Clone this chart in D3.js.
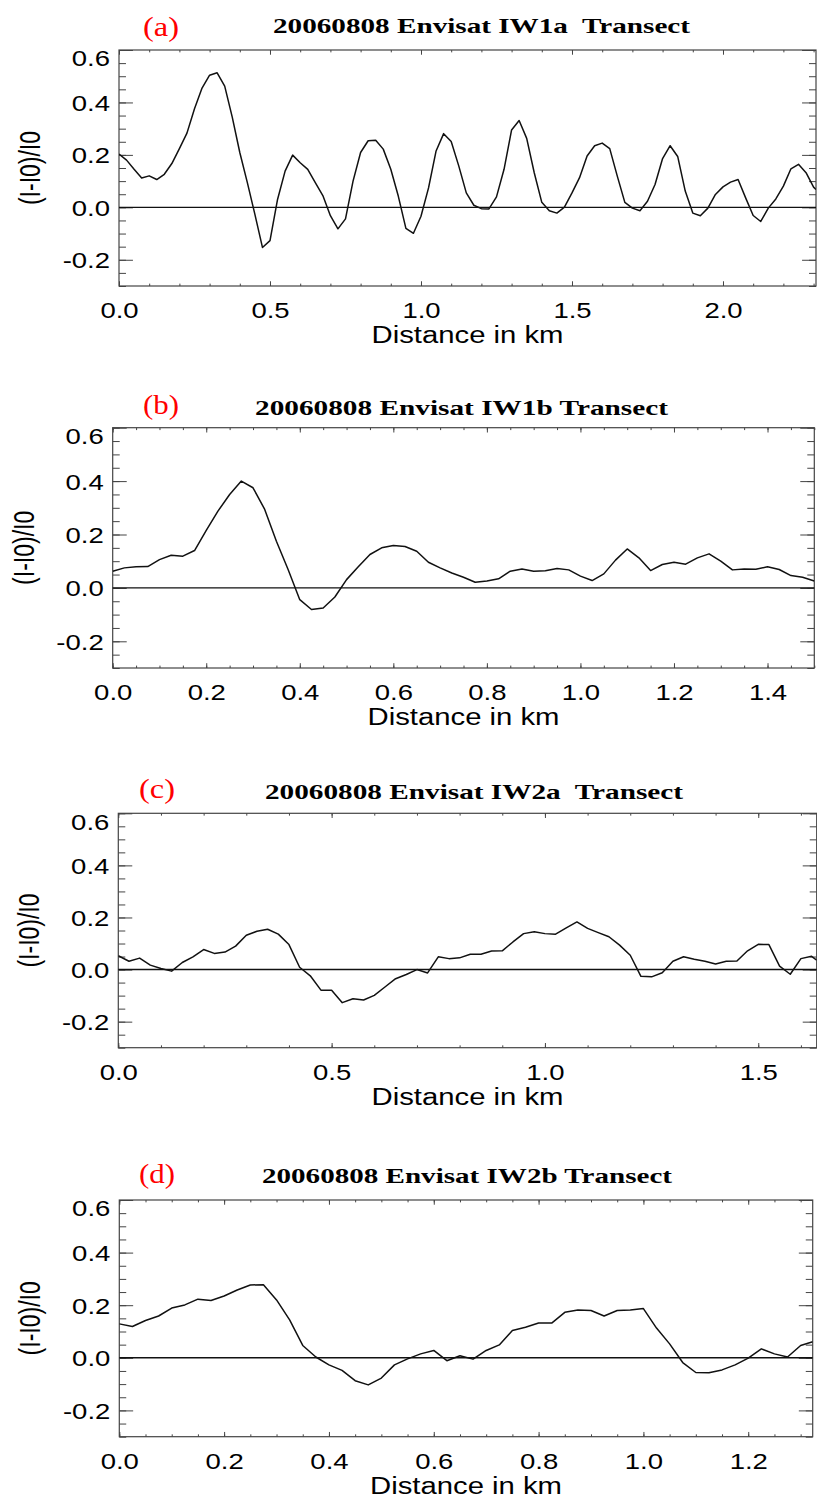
<!DOCTYPE html>
<html><head><meta charset="utf-8">
<script src="https://cdn.jsdelivr.net/npm/d3@7"></script>
<style>body{margin:0;background:#fff} svg{display:block}</style>
</head><body><svg id="chart" width="817" height="1501"></svg>
<script>
// ---------- DATA ----------
const titles = ["20060808 Envisat IW1a  Transect","20060808 Envisat IW1b Transect","20060808 Envisat IW2a  Transect","20060808 Envisat IW2b Transect"];
const panelLetters = ["(a)","(b)","(c)","(d)"];
const yTickValues = [-0.2, 0.0, 0.2, 0.4, 0.6];
const xTicksA = [0.0, 0.5, 1.0, 1.5, 2.0];
const xTicksB = [0.0, 0.2, 0.4, 0.6, 0.8, 1.0, 1.2, 1.4];
const xTicksC = [0.0, 0.5, 1.0, 1.5];
const xTicksD = [0.0, 0.2, 0.4, 0.6, 0.8, 1.0, 1.2];
const yAxisTitle = "(I-I0)/I0";
const xAxisTitle = "Distance in km";

const distA = [0,0.025,0.05,0.075,0.1,0.125,0.15,0.175,0.2,0.225,0.25,0.275,0.3,0.325,0.35,0.375,0.4,0.425,0.45,0.475,0.5,0.525,0.55,0.575,0.6,0.625,0.65,0.675,0.7,0.725,0.75,0.775,0.8,0.825,0.85,0.875,0.9,0.925,0.95,0.975,1.0,1.025,1.05,1.075,1.1,1.125,1.15,1.175,1.2,1.225,1.25,1.275,1.3,1.325,1.35,1.375,1.4,1.425,1.45,1.475,1.5,1.525,1.55,1.575,1.6,1.625,1.65,1.675,1.7,1.725,1.75,1.775,1.8,1.825,1.85,1.875,1.9,1.925,1.95,1.975,2.0,2.025,2.05,2.075,2.1,2.125,2.15,2.175,2.2,2.225,2.25,2.275,2.3,2.308];
const valA = [0.203,0.18,0.145,0.112,0.12,0.106,0.126,0.167,0.224,0.283,0.376,0.455,0.504,0.513,0.462,0.344,0.209,0.094,-0.027,-0.153,-0.127,0.03,0.138,0.199,0.17,0.145,0.094,0.045,-0.032,-0.082,-0.044,0.1,0.209,0.254,0.256,0.222,0.145,0.042,-0.08,-0.099,-0.034,0.074,0.215,0.281,0.251,0.158,0.055,0.008,-0.005,-0.006,0.04,0.145,0.295,0.331,0.263,0.132,0.019,-0.013,-0.022,0.001,0.055,0.113,0.196,0.235,0.245,0.224,0.119,0.019,-0.003,-0.013,0.023,0.087,0.186,0.235,0.194,0.062,-0.022,-0.032,-0.003,0.049,0.078,0.096,0.106,0.036,-0.031,-0.054,-0.003,0.032,0.081,0.147,0.164,0.132,0.077,0.068];

const distB = [0,0.025,0.05,0.075,0.1,0.125,0.15,0.175,0.2,0.225,0.25,0.275,0.3,0.325,0.35,0.375,0.4,0.425,0.45,0.475,0.5,0.525,0.55,0.575,0.6,0.625,0.65,0.675,0.7,0.725,0.75,0.775,0.8,0.825,0.85,0.875,0.9,0.925,0.95,0.975,1.0,1.025,1.05,1.075,1.1,1.125,1.15,1.175,1.2,1.225,1.25,1.275,1.3,1.325,1.35,1.375,1.4,1.425,1.45,1.475,1.5];
const valB = [0.0625,0.075,0.079,0.08,0.106,0.122,0.119,0.14,0.215,0.2875,0.35,0.4,0.375,0.294,0.175,0.069,-0.044,-0.081,-0.075,-0.034,0.031,0.079,0.125,0.15,0.159,0.155,0.1375,0.096,0.075,0.056,0.04,0.021,0.026,0.034,0.0625,0.071,0.0625,0.064,0.0725,0.0675,0.044,0.0275,0.0525,0.104,0.146,0.1125,0.065,0.0875,0.096,0.089,0.1125,0.1275,0.1,0.0675,0.071,0.07,0.079,0.069,0.046,0.04,0.026];

const distC = [0,0.025,0.05,0.075,0.1,0.125,0.15,0.175,0.2,0.225,0.25,0.275,0.3,0.325,0.35,0.375,0.4,0.425,0.45,0.475,0.5,0.525,0.55,0.575,0.6,0.625,0.65,0.675,0.7,0.725,0.75,0.775,0.8,0.825,0.85,0.875,0.9,0.925,0.95,0.975,1.0,1.025,1.05,1.075,1.1,1.125,1.15,1.175,1.2,1.225,1.25,1.275,1.3,1.325,1.35,1.375,1.4,1.425,1.45,1.475,1.5,1.525,1.55,1.575,1.6,1.625,1.637];
const valC = [0.053,0.032,0.044,0.017,0.004,-0.006,0.027,0.049,0.077,0.062,0.067,0.09,0.132,0.147,0.155,0.136,0.096,0.009,-0.024,-0.079,-0.079,-0.127,-0.112,-0.117,-0.099,-0.067,-0.035,-0.019,0.0,-0.013,0.049,0.042,0.045,0.059,0.059,0.071,0.072,0.106,0.138,0.145,0.138,0.136,0.16,0.183,0.158,0.142,0.126,0.094,0.055,-0.026,-0.028,-0.012,0.032,0.049,0.04,0.032,0.021,0.032,0.033,0.072,0.097,0.096,0.013,-0.018,0.042,0.051,0.036];

const distD = [0,0.025,0.05,0.075,0.1,0.125,0.15,0.175,0.2,0.225,0.25,0.275,0.3,0.325,0.35,0.375,0.4,0.425,0.45,0.475,0.5,0.525,0.55,0.575,0.6,0.625,0.65,0.675,0.7,0.725,0.75,0.775,0.8,0.825,0.85,0.875,0.9,0.925,0.95,0.975,1.0,1.025,1.05,1.075,1.1,1.125,1.15,1.175,1.2,1.225,1.25,1.275,1.3,1.323];
const valD = [0.129,0.119,0.142,0.159,0.189,0.201,0.223,0.218,0.235,0.258,0.277,0.278,0.22,0.144,0.047,0.003,-0.027,-0.048,-0.087,-0.103,-0.077,-0.027,-0.004,0.015,0.028,-0.011,0.008,-0.005,0.028,0.049,0.104,0.116,0.132,0.132,0.173,0.182,0.18,0.159,0.18,0.182,0.187,0.113,0.053,-0.018,-0.056,-0.057,-0.046,-0.027,-0.001,0.034,0.015,0.003,0.047,0.061];

const xMaxes = [2.308, 1.5, 1.637, 1.323];
const xMinorSteps = [0.1, 0.05, 0.1, 0.05];
const yRange = [-0.3, 0.6];

// ---------- LAYOUT ----------
const layout = [
  {L:119,   R:816,   T:50,    B:286,    titleY:33,   titleX0:273, titleW:417, letX:143, letY:36},
  {L:112.7, R:814.3, T:427.7, B:668,    titleY:415,  titleX0:255, titleW:413, letX:143, letY:414},
  {L:118.3, R:816.7, T:813.3, B:1047.7, titleY:799,  titleX0:265, titleW:418, letX:139, letY:798},
  {L:119.3, R:812.7, T:1200,  B:1436.7, titleY:1183, titleX0:262, titleW:410, letX:139, letY:1183}
];
const series = [[distA,valA],[distB,valB],[distC,valC],[distD,valD]];
const xTicksAll = [xTicksA, xTicksB, xTicksC, xTicksD];
const SX = 1.25; // horizontal stretch of the original figure's text
const frameColor = "#444";

const svg = d3.select("#chart");
const fmt1 = d3.format(".1f");
const fmt = d => fmt1(d).replace("\u2212", "-");

layout.forEach((lay, i) => {
  const x = d3.scaleLinear().domain([0, xMaxes[i]]).range([lay.L, lay.R]);
  const y = d3.scaleLinear().domain(yRange).range([lay.B, lay.T]);
  const w = lay.R - lay.L, h = lay.B - lay.T;
  const g = svg.append("g");
  const majX = 0.02*h, majY = 0.02*w;
  const minorX = d3.range(0, xMaxes[i] + 1e-9, xMinorSteps[i]);
  const minorY = d3.range(-0.3, 0.6 + 1e-9, 0.05);

  const styleAxis = sel => { sel.select(".domain").remove(); sel.selectAll("line").attr("stroke", frameColor).attr("stroke-width", 1); };

  // minor ticks
  g.append("g").attr("transform", `translate(0,${lay.B})`)
    .call(d3.axisBottom(x).tickValues(minorX).tickSize(-majX/2).tickFormat("")).call(styleAxis);
  g.append("g").attr("transform", `translate(0,${lay.T})`)
    .call(d3.axisTop(x).tickValues(minorX).tickSize(-majX/2).tickFormat("")).call(styleAxis);
  g.append("g").attr("transform", `translate(${lay.L},0)`)
    .call(d3.axisLeft(y).tickValues(minorY).tickSize(-majY/2).tickFormat("")).call(styleAxis);
  g.append("g").attr("transform", `translate(${lay.R},0)`)
    .call(d3.axisRight(y).tickValues(minorY).tickSize(-majY/2).tickFormat("")).call(styleAxis);

  // major ticks + labels
  const bx = g.append("g").attr("transform", `translate(0,${lay.B})`)
    .call(d3.axisBottom(x).tickValues(xTicksAll[i]).tickSize(-majX).tickFormat(fmt)).call(styleAxis);
  bx.selectAll("text").attr("y", 32).attr("dy", null)
    .attr("transform", `scale(${SX},1)`)
    .style("font-family", "'Liberation Sans', Arial, sans-serif").style("font-size", "22px").attr("fill", "#000");
  g.append("g").attr("transform", `translate(0,${lay.T})`)
    .call(d3.axisTop(x).tickValues(xTicksAll[i]).tickSize(-majX).tickFormat("")).call(styleAxis);
  const ly = g.append("g").attr("transform", `translate(${lay.L},0)`)
    .call(d3.axisLeft(y).tickValues(yTickValues).tickSize(-majY).tickFormat(fmt)).call(styleAxis);
  ly.selectAll("text").attr("x", -9/SX).attr("dy", "0.36em")
    .attr("transform", `scale(${SX},1)`)
    .style("font-family", "'Liberation Sans', Arial, sans-serif").style("font-size", "22px").attr("fill", "#000");
  ly.selectAll(".tick").filter(d => d > 0.55).select("text").attr("y", 8);
  g.append("g").attr("transform", `translate(${lay.R},0)`)
    .call(d3.axisRight(y).tickValues(yTickValues).tickSize(-majY).tickFormat("")).call(styleAxis);

  // frame
  g.append("rect").attr("x", lay.L).attr("y", lay.T).attr("width", w).attr("height", h)
    .attr("fill", "none").attr("stroke", frameColor).attr("stroke-width", 1.2);

  // zero line
  g.append("line").attr("x1", lay.L).attr("x2", lay.R).attr("y1", y(0)).attr("y2", y(0))
    .attr("stroke", "#111").attr("stroke-width", 1.4);

  // data line
  const [xs, vs] = series[i];
  const pts = xs.map((d, k) => [d, vs[k]]);
  const clipId = "clip" + i;
  svg.append("clipPath").attr("id", clipId).append("rect")
    .attr("x", lay.L).attr("y", lay.T).attr("width", w).attr("height", h);
  g.append("path").datum(pts).attr("clip-path", `url(#${clipId})`)
    .attr("d", d3.line().x(d => x(d[0])).y(d => y(d[1])))
    .attr("fill", "none").attr("stroke", "#111").attr("stroke-width", 1.5).attr("stroke-linejoin", "round");

  // titles
  g.append("text").attr("x", lay.titleX0).attr("y", lay.titleY)
    .attr("textLength", lay.titleW).attr("lengthAdjust", "spacingAndGlyphs")
    .style("white-space", "pre")
    .style("font-family", "'Liberation Serif', 'Times New Roman', serif").style("font-weight", "bold").style("font-size", "22px")
    .attr("fill", "#000").text(titles[i]);
  g.append("text").attr("x", lay.letX).attr("y", lay.letY)
    .attr("textLength", 36).attr("lengthAdjust", "spacingAndGlyphs")
    .style("font-family", "'Liberation Serif', 'Times New Roman', serif").style("font-size", "27px")
    .attr("fill", "#f00").text(panelLetters[i]);

  // axis titles
  g.append("text").attr("x", (lay.L + lay.R)/2 - 96).attr("y", lay.B + 57)
    .attr("textLength", 192).attr("lengthAdjust", "spacingAndGlyphs")
    .style("font-family", "'Liberation Sans', Arial, sans-serif").style("font-size", "23px")
    .attr("fill", "#000").text(xAxisTitle);
  g.append("text")
    .attr("transform", `translate(${lay.L - 89},${(lay.T + lay.B)/2}) scale(${SX},1) rotate(-90)`)
    .attr("text-anchor", "middle").attr("dy", "0.35em")
    .style("font-family", "'Liberation Sans', Arial, sans-serif").style("font-size", "23px")
    .attr("fill", "#000").text(yAxisTitle);
});
</script></body></html>
